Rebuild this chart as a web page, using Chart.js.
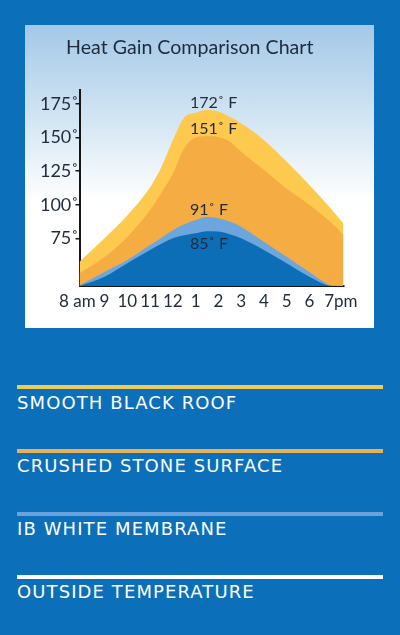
<!DOCTYPE html>
<html>
<head>
<meta charset="utf-8">
<script src="https://cdn.jsdelivr.net/npm/chart.js@4/dist/chart.umd.min.js"></script>
<style>
  html, body { margin: 0; padding: 0; }
  body { width: 400px; height: 635px; background: #0b6fba; position: relative; overflow: hidden; }
  #panel { position: absolute; left: 25px; top: 25px; width: 349px; height: 303px;
    background: linear-gradient(to bottom, #a3c8e8 0%, #d6e7f4 33%, #ffffff 58%, #ffffff 100%); }
  #panel canvas { display: block; }
  .leg { position: absolute; left: 17px; width: 366px; }
  .leg .bar { height: 4px; width: 100%; }
  .leg .txt { font-family: "DejaVu Sans", sans-serif; font-size: 18px; line-height: 18px;
    letter-spacing: 1.1px; color: #ffffff; margin-top: 4.3px; white-space: nowrap; }
</style>
</head>
<body>
<div id="panel"><canvas id="c"></canvas></div>
<div id="legend"></div>
<script>
// ---- data ----
const hours        = [7.9, 9, 10, 11, 11.5, 12, 12.5, 13, 13.5, 14, 14.5, 15, 16, 17, 18, 19, 19.5];
const blackRoof    = [57.6, 75, 92, 113, 128, 148, 165, 168.5, 170.5, 169.5, 165.5, 160.6, 148.2, 132.1, 114.7, 96.1, 86.1];
const crushedStone = [48.9, 61, 76, 96, 109, 123, 142, 150, 151, 150.5, 147, 139.5, 126, 112, 100, 86, 77.5];
const whiteMembr   = [40, 50, 58.8, 70, 75.5, 81, 85.5, 88.6, 90.8, 90, 87.5, 83.7, 72.5, 61.3, 50, 40, 39.5];
const outsideTemp  = [39.5, 46.4, 56.4, 66.3, 71, 75, 77.3, 78.7, 80.3, 80, 78, 75, 66.3, 56.4, 46.4, 39.5, 39.5];

const seriesNames  = ['SMOOTH BLACK ROOF', 'CRUSHED STONE SURFACE', 'IB WHITE MEMBRANE', 'OUTSIDE TEMPERATURE'];
const peakLabels   = ['172˚ F', '151˚ F', '91˚ F', '85˚ F'];
const xTickValues  = [8, 9, 10, 11, 12, 13, 14, 15, 16, 17, 18, 19];
const xTickLabels  = ['8 am', '9', '10', '11', '12', '1', '2', '3', '4', '5', '6', '7pm'];
const yTickValues  = [75, 100, 125, 150, 175];
const chartTitle   = 'Heat Gain Comparison Chart';

// ---- styles ----
const fillColors   = ['#fdca4f', '#f5ad43', '#6ca6dc', '#0b6eb6'];
const legendColors = ['#f1c956', '#e9b055', '#6aa2dc', '#ffffff'];
const inkColor = '#1f2b3b';
const axisColor = '#151515';

const seriesValues = [blackRoof, crushedStone, whiteMembr, outsideTemp];

const datasets = seriesValues.map((vals, i) => ({
  label: seriesNames[i],
  data: hours.map((h, k) => ({ x: h, y: vals[k] })),
  backgroundColor: fillColors[i],
  borderWidth: 0,
  pointRadius: 0,
  fill: 'start',
  cubicInterpolationMode: 'monotone',
  order: 4 - i,
  peakLabel: peakLabels[i],
  peakBelow: i === 3
}));

// peak value labels, left-aligned a little before each series' peak
const peakLabelPlugin = {
  id: 'peakLabels',
  afterDatasetsDraw(chart, args, opts) {
    const { ctx, scales: { x, y } } = chart;
    ctx.save();
    ctx.font = '16px Lato';
    ctx.fillStyle = opts.color;
    ctx.textAlign = 'left';
    ctx.textBaseline = 'middle';
    chart.data.datasets.forEach(ds => {
      let best = ds.data[0];
      ds.data.forEach(p => { if (p.y > best.y) best = p; });
      const px = x.getPixelForValue(best.x) - opts.dx;
      const py = y.getPixelForValue(best.y);
      ctx.fillText(ds.peakLabel, px, py + (ds.peakBelow ? opts.gapBelow : -opts.gapAbove));
    });
    ctx.restore();
  }
};

new Chart(document.getElementById('c'), {
  type: 'line',
  data: { datasets },
  plugins: [peakLabelPlugin],
  options: {
    responsive: true,
    maintainAspectRatio: false,
    animation: false,
    layout: { padding: { left: 11, right: 30.5, top: 0, bottom: 0 } },
    plugins: {
      legend: { display: false },
      tooltip: { enabled: false },
      title: {
        display: true, text: chartTitle, color: inkColor,
        font: { family: 'Lato', size: 19.6, weight: 'normal' },
        padding: { top: 11.2, bottom: 30.3 }
      },
      peakLabels: { color: inkColor, dx: 17, gapAbove: 7.5, gapBelow: 13 }
    },
    scales: {
      x: {
        type: 'linear', min: 7.9, max: 19.5,
        afterBuildTicks: s => { s.ticks = xTickValues.map(v => ({ value: v })); },
        afterFit: s => { s.height = 42; },
        grid: {
          drawOnChartArea: false, drawTicks: true, tickLength: -6, lineWidth: 1.5,
          color: ctx => (ctx.index === 0 ? 'rgba(0,0,0,0)' : axisColor)
        },
        border: { display: true, color: axisColor, width: 2 },
        ticks: {
          autoSkip: false, maxRotation: 0, minRotation: 0, padding: 11.8,
          color: inkColor, font: { family: 'Lato', size: 17 },
          callback: (v, i, t) => i === 0 ? xTickLabels[i] + '  '
                                 : (i === t.length - 1 ? '    ' + xTickLabels[i] : xTickLabels[i])
        }
      },
      y: {
        type: 'linear', min: 39.5, max: 185.4,
        afterBuildTicks: s => { s.ticks = yTickValues.map(v => ({ value: v })); },
        afterFit: s => { s.width = 43.5; },
        grid: { drawOnChartArea: false, drawTicks: true, tickLength: 4, lineWidth: 1.5, color: axisColor },
        border: { display: true, color: axisColor, width: 2 },
        ticks: {
          padding: -3, color: inkColor, font: { family: 'Lato', size: 18 },
          callback: v => v + '˚'
        }
      }
    }
  }
});

// ---- legend (HTML, built from the series) ----
const legend = document.getElementById('legend');
seriesNames.forEach((name, i) => {
  const item = document.createElement('div');
  item.className = 'leg';
  item.style.top = (385.3 + i * 63.3) + 'px';
  const bar = document.createElement('div');
  bar.className = 'bar';
  bar.style.background = legendColors[i];
  const txt = document.createElement('div');
  txt.className = 'txt';
  txt.textContent = name;
  item.appendChild(bar);
  item.appendChild(txt);
  legend.appendChild(item);
});
</script>
</body>
</html>
